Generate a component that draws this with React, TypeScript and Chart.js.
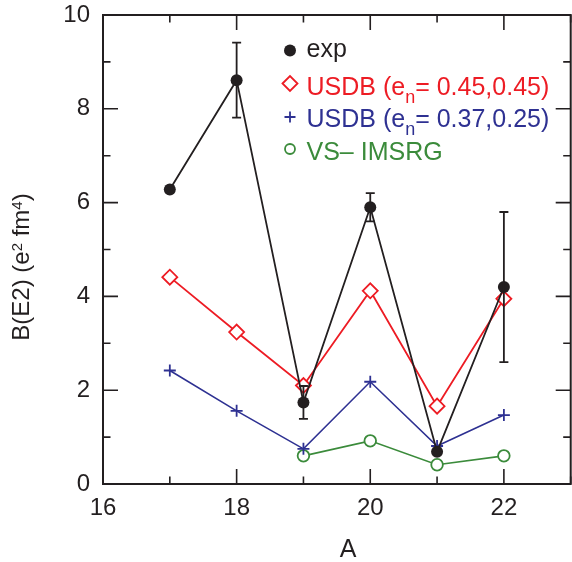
import React, { useEffect, useRef } from "react";
import { Chart, registerables } from "chart.js";

Chart.register(...registerables);

// ---- data ----
const massNumbers = [17, 18, 19, 20, 21, 22];
const expValues = [6.28, 8.61, 1.74, 5.9, 0.69, 4.2];
const expErrors = [0, 0.8, 0.35, 0.3, 0, 1.6];
const usdbStdValues = [4.41, 3.24, 2.1, 4.12, 1.66, 3.95];
const usdbFitValues = [2.42, 1.56, 0.75, 2.18, 0.81, 1.47];
const imsrgMass = [19, 20, 21, 22];
const imsrgValues = [0.6, 0.92, 0.41, 0.6];

const xTickValues = [16, 18, 20, 22];
const xTickLabels = ["16", "18", "20", "22"];
const yTickValues = [0, 2, 4, 6, 8, 10];
const yTickLabels = ["0", "2", "4", "6", "8", "10"];

const seriesLabels = ["exp", "USDB (eₙ=0.45,0.45)", "USDB (eₙ=0.37,0.25)", "VS– IMSRG"];
type Part = { t: string; sub?: boolean; sup?: boolean };
const legendParts: Part[][] = [
  [{ t: "exp" }],
  [{ t: "USDB (e" }, { t: "n", sub: true }, { t: "= 0.45,0.45)" }],
  [{ t: "USDB (e" }, { t: "n", sub: true }, { t: "= 0.37,0.25)" }],
  [{ t: "VS\u2013 IMSRG" }],
];
const xTitle = "A";
const yTitleParts: Part[] = [
  { t: "B(E2) (e" },
  { t: "2", sup: true },
  { t: " fm" },
  { t: "4", sup: true },
  { t: ")" },
];

// ---- styles ----
const FONT = "'Liberation Sans', Arial, Helvetica, sans-serif";
const BLACK = "#231f20";
const RED = "#ed1c24";
const BLUE = "#2e3192";
const GREEN = "#3b8b3b";
const seriesColors = [BLACK, RED, BLUE, GREEN];
const seriesStyles = ["circle", "rectRot", "cross", "circle"];

function drawMarker(ctx: CanvasRenderingContext2D, style: string, x: number, y: number, r: number, color: string, filled: boolean) {
  ctx.save();
  ctx.strokeStyle = color;
  ctx.fillStyle = filled ? color : "#ffffff";
  ctx.lineWidth = 1.8;
  ctx.beginPath();
  if (style === "circle") {
    ctx.arc(x, y, r, 0, Math.PI * 2);
    ctx.fill();
    if (!filled) ctx.stroke();
  } else if (style === "rectRot") {
    ctx.moveTo(x - r, y);
    ctx.lineTo(x, y - r);
    ctx.lineTo(x + r, y);
    ctx.lineTo(x, y + r);
    ctx.closePath();
    ctx.fill();
    ctx.stroke();
  } else if (style === "cross") {
    ctx.moveTo(x - r, y);
    ctx.lineTo(x + r, y);
    ctx.moveTo(x, y - r);
    ctx.lineTo(x, y + r);
    ctx.stroke();
  }
  ctx.restore();
}

function drawParts(
  ctx: CanvasRenderingContext2D,
  parts: Part[],
  x: number,
  y: number,
  size: number,
  color: string,
  center: boolean,
  smallRatio: number,
  subDrop: number,
  supRise: number
) {
  const fontFor = (p: Part) => `${p.sub || p.sup ? Math.round(size * smallRatio) : size}px ${FONT}`;
  let total = 0;
  for (const p of parts) {
    ctx.font = fontFor(p);
    total += ctx.measureText(p.t).width;
  }
  let cx = center ? x - total / 2 : x;
  ctx.fillStyle = color;
  ctx.textBaseline = "alphabetic";
  ctx.textAlign = "left";
  for (const p of parts) {
    ctx.font = fontFor(p);
    const dy = p.sub ? subDrop : p.sup ? -supRise : 0;
    ctx.fillText(p.t, cx, y + dy);
    cx += ctx.measureText(p.t).width;
  }
}

const framePlugin = {
  id: "framePlugin",
  afterDatasetsDraw(chart: any) {
    const ctx: CanvasRenderingContext2D = chart.ctx;
    const xs = chart.scales.x;
    const ys = chart.scales.y;
    const { left, right, top, bottom } = chart.chartArea;

    // error bars
    ctx.save();
    ctx.strokeStyle = BLACK;
    ctx.lineWidth = 1.8;
    massNumbers.forEach((m, i) => {
      const e = expErrors[i];
      if (!e) return;
      const px = xs.getPixelForValue(m);
      const y1 = ys.getPixelForValue(expValues[i] + e);
      const y2 = ys.getPixelForValue(expValues[i] - e);
      ctx.beginPath();
      ctx.moveTo(px, y1);
      ctx.lineTo(px, y2);
      ctx.moveTo(px - 4.5, y1);
      ctx.lineTo(px + 4.5, y1);
      ctx.moveTo(px - 4.5, y2);
      ctx.lineTo(px + 4.5, y2);
      ctx.stroke();
    });
    ctx.restore();

    // frame and inward ticks
    ctx.save();
    ctx.strokeStyle = BLACK;
    ctx.lineWidth = 2;
    ctx.strokeRect(left, top, right - left, bottom - top);
    ctx.lineWidth = 1.6;
    ctx.beginPath();
    for (const t of xs.ticks) {
      const px = xs.getPixelForValue(t.value);
      const len = xTickValues.includes(t.value) ? 15 : 7.5;
      ctx.moveTo(px, bottom);
      ctx.lineTo(px, bottom - len);
      ctx.moveTo(px, top);
      ctx.lineTo(px, top + len);
    }
    for (const t of ys.ticks) {
      const py = ys.getPixelForValue(t.value);
      const len = yTickValues.includes(t.value) ? 15 : 7.5;
      ctx.moveTo(left, py);
      ctx.lineTo(left + len, py);
      ctx.moveTo(right, py);
      ctx.lineTo(right - len, py);
    }
    ctx.stroke();
    ctx.restore();

    // axis titles
    ctx.save();
    ctx.fillStyle = BLACK;
    ctx.font = `25px ${FONT}`;
    ctx.textAlign = "center";
    ctx.textBaseline = "alphabetic";
    ctx.fillText(xTitle, 348, 557);
    ctx.translate(20, 267);
    ctx.rotate(-Math.PI / 2);
    drawParts(ctx, yTitleParts, 0, 8.6, 24, BLACK, true, 0.64, 0, 7);
    ctx.restore();

    // legend
    ctx.save();
    const baselines = [57, 95, 127, 160];
    const markerY = [50.5, 83.5, 117, 149];
    const radii = [6, 7.5, 5.5, 5];
    legendParts.forEach((parts, i) => {
      drawMarker(ctx, seriesStyles[i], 290, markerY[i], radii[i], seriesColors[i], i === 0);
      drawParts(ctx, parts, 306.5, baselines[i], 25, seriesColors[i], false, 0.72, 8, 0);
    });
    ctx.restore();
  },
};

export default function App() {
  const canvasRef = useRef<HTMLCanvasElement | null>(null);

  useEffect(() => {
    if (!canvasRef.current) return;
    const mk = (xsArr: number[], ysArr: number[]) => xsArr.map((x, i) => ({ x, y: ysArr[i] }));
    const chart = new Chart(canvasRef.current, {
      type: "line",
      data: {
        datasets: [
          {
            label: seriesLabels[0],
            data: mk(massNumbers, expValues),
            borderColor: BLACK,
            backgroundColor: BLACK,
            borderWidth: 1.8,
            pointStyle: "circle",
            pointRadius: 6,
            pointBorderWidth: 0,
            pointBackgroundColor: BLACK,
          },
          {
            label: seriesLabels[1],
            data: mk(massNumbers, usdbStdValues),
            borderColor: RED,
            borderWidth: 1.8,
            pointStyle: "rectRot",
            pointRadius: 7.5,
            pointBorderWidth: 1.8,
            pointBorderColor: RED,
            pointBackgroundColor: "#ffffff",
          },
          {
            label: seriesLabels[2],
            data: mk(massNumbers, usdbFitValues),
            borderColor: BLUE,
            borderWidth: 1.6,
            pointStyle: "cross",
            pointRadius: 6,
            pointBorderWidth: 1.8,
            pointBorderColor: BLUE,
            pointBackgroundColor: BLUE,
          },
          {
            label: seriesLabels[3],
            data: mk(imsrgMass, imsrgValues),
            borderColor: GREEN,
            borderWidth: 1.6,
            pointStyle: "circle",
            pointRadius: 5.8,
            pointBorderWidth: 1.8,
            pointBorderColor: GREEN,
            pointBackgroundColor: "#ffffff",
          },
        ],
      },
      options: {
        animation: false,
        responsive: true,
        maintainAspectRatio: false,
        layout: { padding: { left: 0, right: 6, top: 15, bottom: 0 } },
        plugins: { legend: { display: false }, tooltip: { enabled: false } },
        scales: {
          x: {
            type: "linear",
            min: 16,
            max: 23,
            grid: { display: false, drawTicks: false },
            border: { display: false },
            ticks: {
              stepSize: 1,
              autoSkip: false,
              maxRotation: 0,
              padding: 10,
              color: BLACK,
              font: { family: FONT, size: 24 },
              callback: (v: any) => {
                const i = xTickValues.indexOf(Number(v));
                return i >= 0 ? xTickLabels[i] : "";
              },
            },
            afterFit: (s: any) => {
              s.height = 78;
              s.paddingLeft = 0;
              s.paddingRight = 0;
            },
          },
          y: {
            min: 0,
            max: 10,
            grid: { display: false, drawTicks: false },
            border: { display: false },
            ticks: {
              stepSize: 1,
              autoSkip: false,
              padding: 13,
              color: BLACK,
              font: { family: FONT, size: 24 },
              callback: (v: any) => {
                const i = yTickValues.indexOf(Number(v));
                return i >= 0 ? yTickLabels[i] : "";
              },
            },
            afterFit: (s: any) => {
              s.width = 103;
              s.paddingTop = 0;
              s.paddingBottom = 0;
            },
          },
        },
      },
      plugins: [framePlugin],
    });
    return () => chart.destroy();
  }, []);

  return (
    <div style={{ position: "fixed", left: 0, top: 0, width: 572, height: 562, overflow: "hidden", background: "#fff" }}>
      <div style={{ position: "absolute", left: 0, top: 0, width: 580, height: 562 }}>
        <canvas ref={canvasRef} />
      </div>
    </div>
  );
}
